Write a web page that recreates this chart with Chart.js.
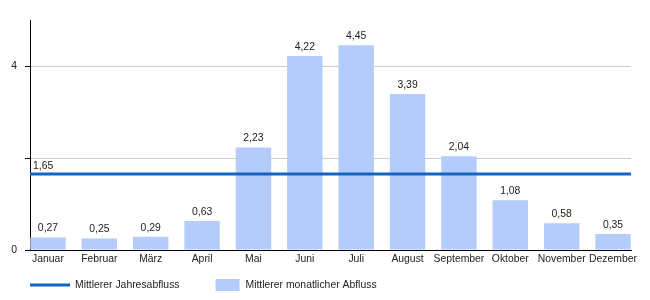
<!DOCTYPE html>
<html>
<head>
<meta charset="utf-8">
<script src="https://cdn.jsdelivr.net/npm/chart.js@4"></script>
<style>
html,body{margin:0;padding:0;background:#fff;}
#wrap{width:650px;height:300px;position:relative;}
</style>
</head>
<body>
<div id="wrap"><canvas id="c"></canvas></div>
<script>
const categories = ["Januar","Februar","März","April","Mai","Juni","Juli","August","September","Oktober","November","Dezember"];
const monthlyValues = [0.27,0.25,0.29,0.63,2.23,4.22,4.45,3.39,2.04,1.08,0.58,0.35];
const annualMean = 1.65;
const yTicks = [0, 2, 4];
const yTickLabels = ["0", "", "4"];
const seriesNames = ["Mittlerer Jahresabfluss", "Mittlerer monatlicher Abfluss"];

const LINE_COLOR = "rgb(21,101,192)";
const BAR_COLOR = "rgb(180,204,250)";
const FONT = "'Liberation Sans', Arial, sans-serif";
const FONT_SIZE = 10.4;
const X_MIN = -0.35, X_MAX = categories.length - 1 + 0.35;

const fmt = v => v.toFixed(2).replace('.', ',');

const labelPlugin = {
  id: 'valueLabels',
  afterDatasetsDraw(chart) {
    const ctx = chart.ctx;
    ctx.save();
    ctx.font = FONT_SIZE + "px " + FONT;
    ctx.fillStyle = "#222";
    ctx.textAlign = "center";
    ctx.textBaseline = "middle";
    const barMeta = chart.getDatasetMeta(1);
    barMeta.data.forEach((el, i) => {
      ctx.fillText(fmt(monthlyValues[i]), el.x, el.y - 9);
    });
    const lineMeta = chart.getDatasetMeta(0);
    const p = lineMeta.data[0];
    ctx.textAlign = "left";
    ctx.fillText(fmt(annualMean), chart.chartArea.left + 3, p.y - 8);
    ctx.restore();
  },
  afterDraw(chart) {
    const ctx = chart.ctx;
    const ca = chart.chartArea;
    ctx.save();
    ctx.font = FONT_SIZE + "px " + FONT;
    ctx.fillStyle = "#222";
    ctx.textBaseline = "middle";
    ctx.textAlign = "left";
    const y = 285;
    let x = ca.left;
    ctx.strokeStyle = LINE_COLOR;
    ctx.lineWidth = 3;
    ctx.beginPath(); ctx.moveTo(x, y); ctx.lineTo(x + 40, y); ctx.stroke();
    x += 45;
    ctx.fillText(seriesNames[0], x, y);
    x += ctx.measureText(seriesNames[0]).width + 36;
    ctx.fillStyle = BAR_COLOR;
    ctx.fillRect(x, y - 6, 24, 12);
    x += 30;
    ctx.fillStyle = "#222";
    ctx.fillText(seriesNames[1], x, y);
    ctx.restore();
  }
};

new Chart(document.getElementById('c'), {
  type: 'bar',
  data: {
    datasets: [
      {
        type: 'line',
        label: seriesNames[0],
        data: [{x: X_MIN, y: annualMean}, {x: X_MAX, y: annualMean}],
        borderColor: LINE_COLOR,
        borderWidth: 3,
        pointRadius: 0,
        fill: false,
        order: 0
      },
      {
        type: 'bar',
        label: seriesNames[1],
        data: monthlyValues.map((v, i) => ({x: i, y: v})),
        backgroundColor: BAR_COLOR,
        borderWidth: 0,
        categoryPercentage: 1,
        barPercentage: 0.69,
        order: 1
      }
    ]
  },
  options: {
    responsive: true,
    maintainAspectRatio: false,
    animation: false,
    layout: {padding: {top: 20, right: 19, bottom: 30, left: 0}},
    plugins: {legend: {display: false}, tooltip: {enabled: false}},
    scales: {
      x: {
        type: 'linear',
        min: X_MIN,
        max: X_MAX,
        offset: false,
        afterFit(s) { s.height = 20; },
        grid: {display: true, drawOnChartArea: false, drawTicks: false, offset: false},
        border: {display: true, color: '#000', width: 1},
        ticks: {
          stepSize: 1,
          includeBounds: false,
          autoSkip: false,
          maxRotation: 0,
          padding: 3,
          color: '#222',
          font: {family: FONT, size: FONT_SIZE},
          callback: v => categories[v] !== undefined ? categories[v] : ''
        },
        afterBuildTicks(s) { s.ticks = categories.map((c, i) => ({value: i})); }
      },
      y: {
        min: 0,
        max: 5,
        afterFit(s) { s.width = 30; },
        afterBuildTicks(s) { s.ticks = yTicks.map(v => ({value: v})); },
        grid: {color: '#cccccc', tickColor: '#000', tickLength: 5, drawTicks: true},
        border: {display: true, color: '#000', width: 1},
        ticks: {
          padding: 8,
          color: '#222',
          font: {family: FONT, size: FONT_SIZE},
          callback: (v) => yTickLabels[yTicks.indexOf(v)]
        }
      }
    }
  },
  plugins: [labelPlugin]
});
</script>
</body>
</html>
